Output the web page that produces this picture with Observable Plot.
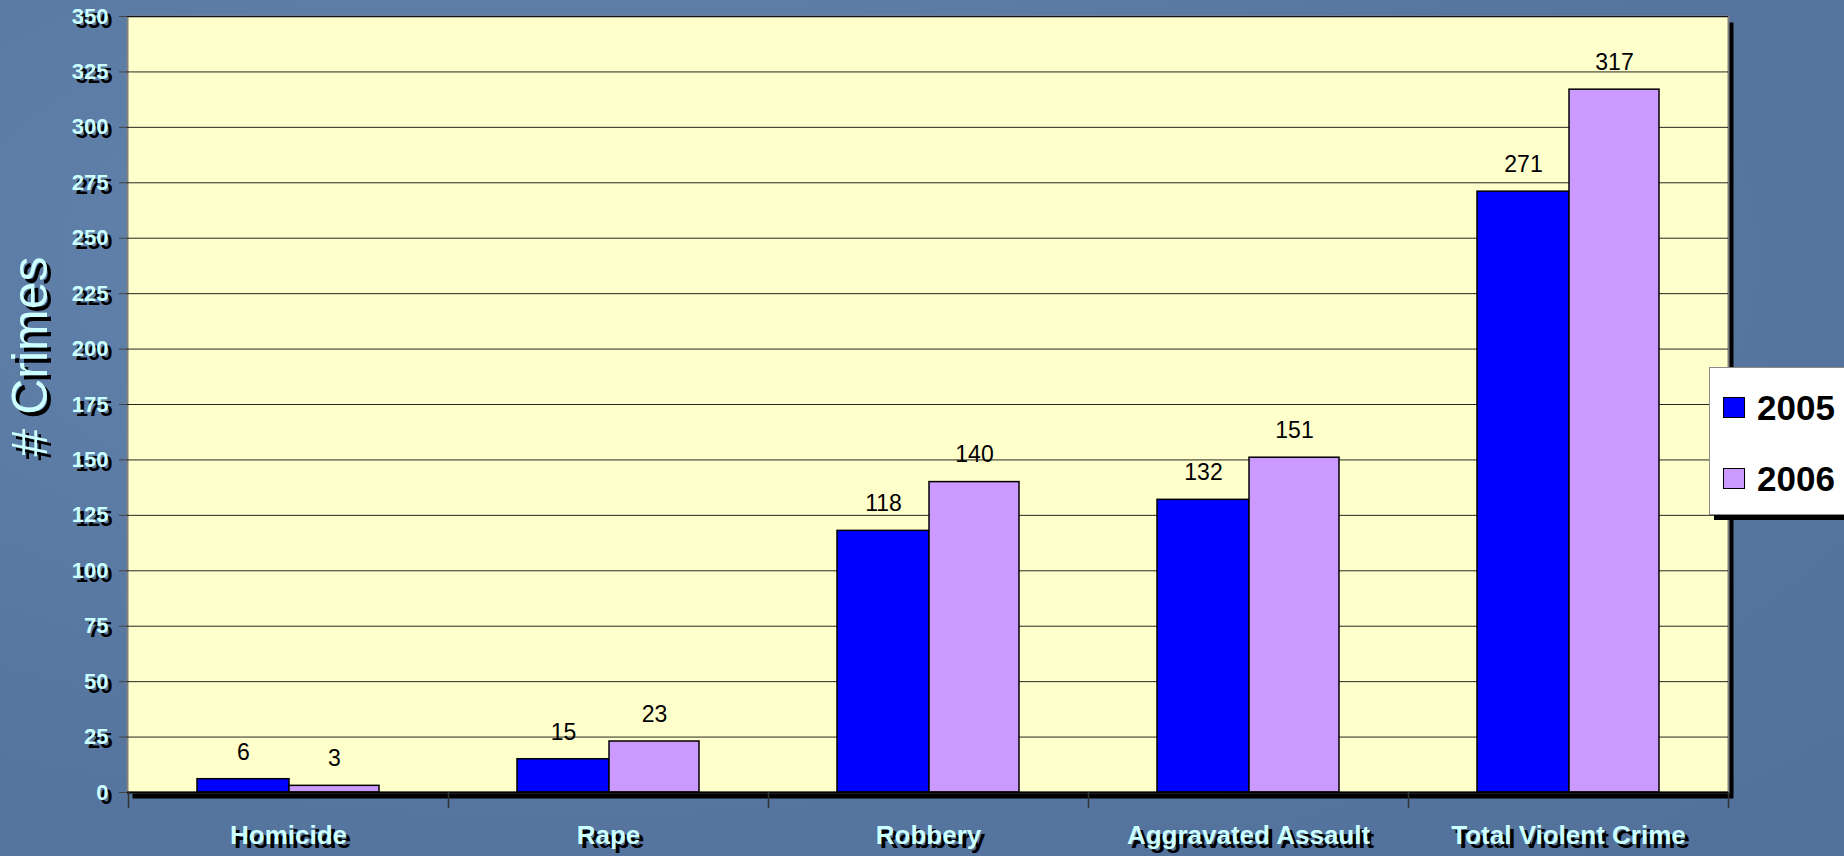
<!DOCTYPE html>
<html><head><meta charset="utf-8">
<script src="https://cdn.jsdelivr.net/npm/d3@7"></script>
<script src="https://cdn.jsdelivr.net/npm/@observablehq/plot@0.6"></script>
<style>
html,body{margin:0;padding:0;overflow:hidden;width:1844px;height:856px;
  background:#5a7ba3;
  background-image:radial-gradient(ellipse at 30% 30%, #6485ad 0%, #5676a0 60%, #51709a 100%);}
#chart{position:absolute;left:0;top:0;}
#legend{position:absolute;left:1709px;top:367px;width:150px;height:146px;background:#fff;
  border:1px solid #8a8a8a;box-shadow:5px 5px 0 #000;font-family:"Liberation Sans",Arial,sans-serif;}
.sw{position:absolute;left:13px;width:20px;height:19px;border:1.5px solid #000;}
.lt{position:absolute;left:47px;font-weight:bold;font-size:35px;line-height:35px;color:#000;}
</style></head><body>
<div id="chart"></div>
<div id="legend"></div>
<script>
const categories = ["Homicide","Rape","Robbery","Aggravated Assault","Total Violent Crime"];
const values2005 = [6,15,118,132,271];
const values2006 = [3,23,140,151,317];
const years = ["2005","2006"];
const yearColors = ["#0000ff","#cc99ff"];
const yTicks = [0,25,50,75,100,125,150,175,200,225,250,275,300,325,350];
const yLabel = "# Crimes";

const d2005 = categories.map((c,i)=>({category:c, value:values2005[i]}));
const d2006 = categories.map((c,i)=>({category:c, value:values2006[i]}));

const font = '"Liberation Sans", Arial, sans-serif';
const light = "#ccffff";

const chart = Plot.plot({
  width: 1844, height: 856,
  marginLeft: 127, marginRight: 116, marginTop: 16, marginBottom: 64,
  style: {background: "transparent", fontFamily: font, overflow: "visible"},
  x: {domain: categories, padding: 0, axis: null},
  y: {domain: [0, 350], axis: null},
  marks: [
    Plot.frame({fill: "#000", dx: 5, dy: 6}),
    Plot.frame({fill: "#ffffcc", stroke: "#808080", strokeWidth: 2}),
    Plot.gridY(yTicks, {stroke: "#000", strokeOpacity: 0.85, strokeWidth: 1}),
    Plot.barY(d2005, {x: "category", y: "value", fill: yearColors[0], stroke: "#000", strokeWidth: 1.5, insetLeft: 69, insetRight: 159}),
    Plot.barY(d2006, {x: "category", y: "value", fill: yearColors[1], stroke: "#000", strokeWidth: 1.5, insetLeft: 161, insetRight: 69}),
    Plot.ruleY([0], {stroke: "#000", strokeWidth: 2}),
    Plot.text(d2005, {x: "category", y: "value", text: d => String(d.value), dx: -45, dy: -27, fontSize: 23, fill: "#000"}),
    Plot.text(d2006, {x: "category", y: "value", text: d => String(d.value), dx: 46, dy: -27, fontSize: 23, fill: "#000"}),
    // y ticks
    Plot.axisY({ticks: yTicks, tickSize: 8, tickFormat: () => "", label: null, stroke: "#444"}),
    // y tick labels with shadow
    Plot.text(yTicks, {y: d => d, frameAnchor: "left", text: d => String(d), dx: -15, dy: 4, textAnchor: "end", lineAnchor: "middle", fill: "#000", fontSize: 22, fontWeight: "bold", letterSpacing: "-1px"}),
    Plot.text(yTicks, {y: d => d, frameAnchor: "left", text: d => String(d), dx: -19, dy: 0, textAnchor: "end", lineAnchor: "middle", fill: light, fontSize: 22, fontWeight: "bold", letterSpacing: "-1px"}),
    // x ticks at band edges
    Plot.ruleX(categories, {x: d => d, dx: -160, insetTop: 776, insetBottom: -16, stroke: "#333", strokeWidth: 1.5}),
    Plot.ruleX(categories.slice(-1), {x: d => d, dx: 160, insetTop: 776, insetBottom: -16, stroke: "#333", strokeWidth: 1.5}),
    // x labels with shadow
    Plot.text(categories, {x: d => d, frameAnchor: "bottom", text: d => d, dx: 4, dy: 47, textAnchor: "middle", lineAnchor: "middle", fill: "#000", fontSize: 26, fontWeight: "bold", letterSpacing: "-1px"}),
    Plot.text(categories, {x: d => d, frameAnchor: "bottom", text: d => d, dx: 0, dy: 43, textAnchor: "middle", lineAnchor: "middle", fill: light, fontSize: 26, fontWeight: "bold", letterSpacing: "-1px"}),
    // y label with shadow
    Plot.text([yLabel], {frameAnchor: "left", text: d => d, rotate: -90, dx: -93, dy: -44, textAnchor: "middle", lineAnchor: "middle", fill: "#000", fontSize: 50}),
    Plot.text([yLabel], {frameAnchor: "left", text: d => d, rotate: -90, dx: -97, dy: -48, textAnchor: "middle", lineAnchor: "middle", fill: light, fontSize: 50})
  ]
});
document.getElementById("chart").appendChild(chart);

const legend = document.getElementById("legend");
const swTops = [29, 100];
const txtTops = [22, 93];
years.forEach((y, i) => {
  const sw = document.createElement("div");
  sw.className = "sw"; sw.style.top = swTops[i] + "px"; sw.style.background = yearColors[i];
  legend.appendChild(sw);
  const t = document.createElement("div");
  t.className = "lt"; t.style.top = txtTops[i] + "px"; t.textContent = y;
  legend.appendChild(t);
});
</script>
</body></html>
